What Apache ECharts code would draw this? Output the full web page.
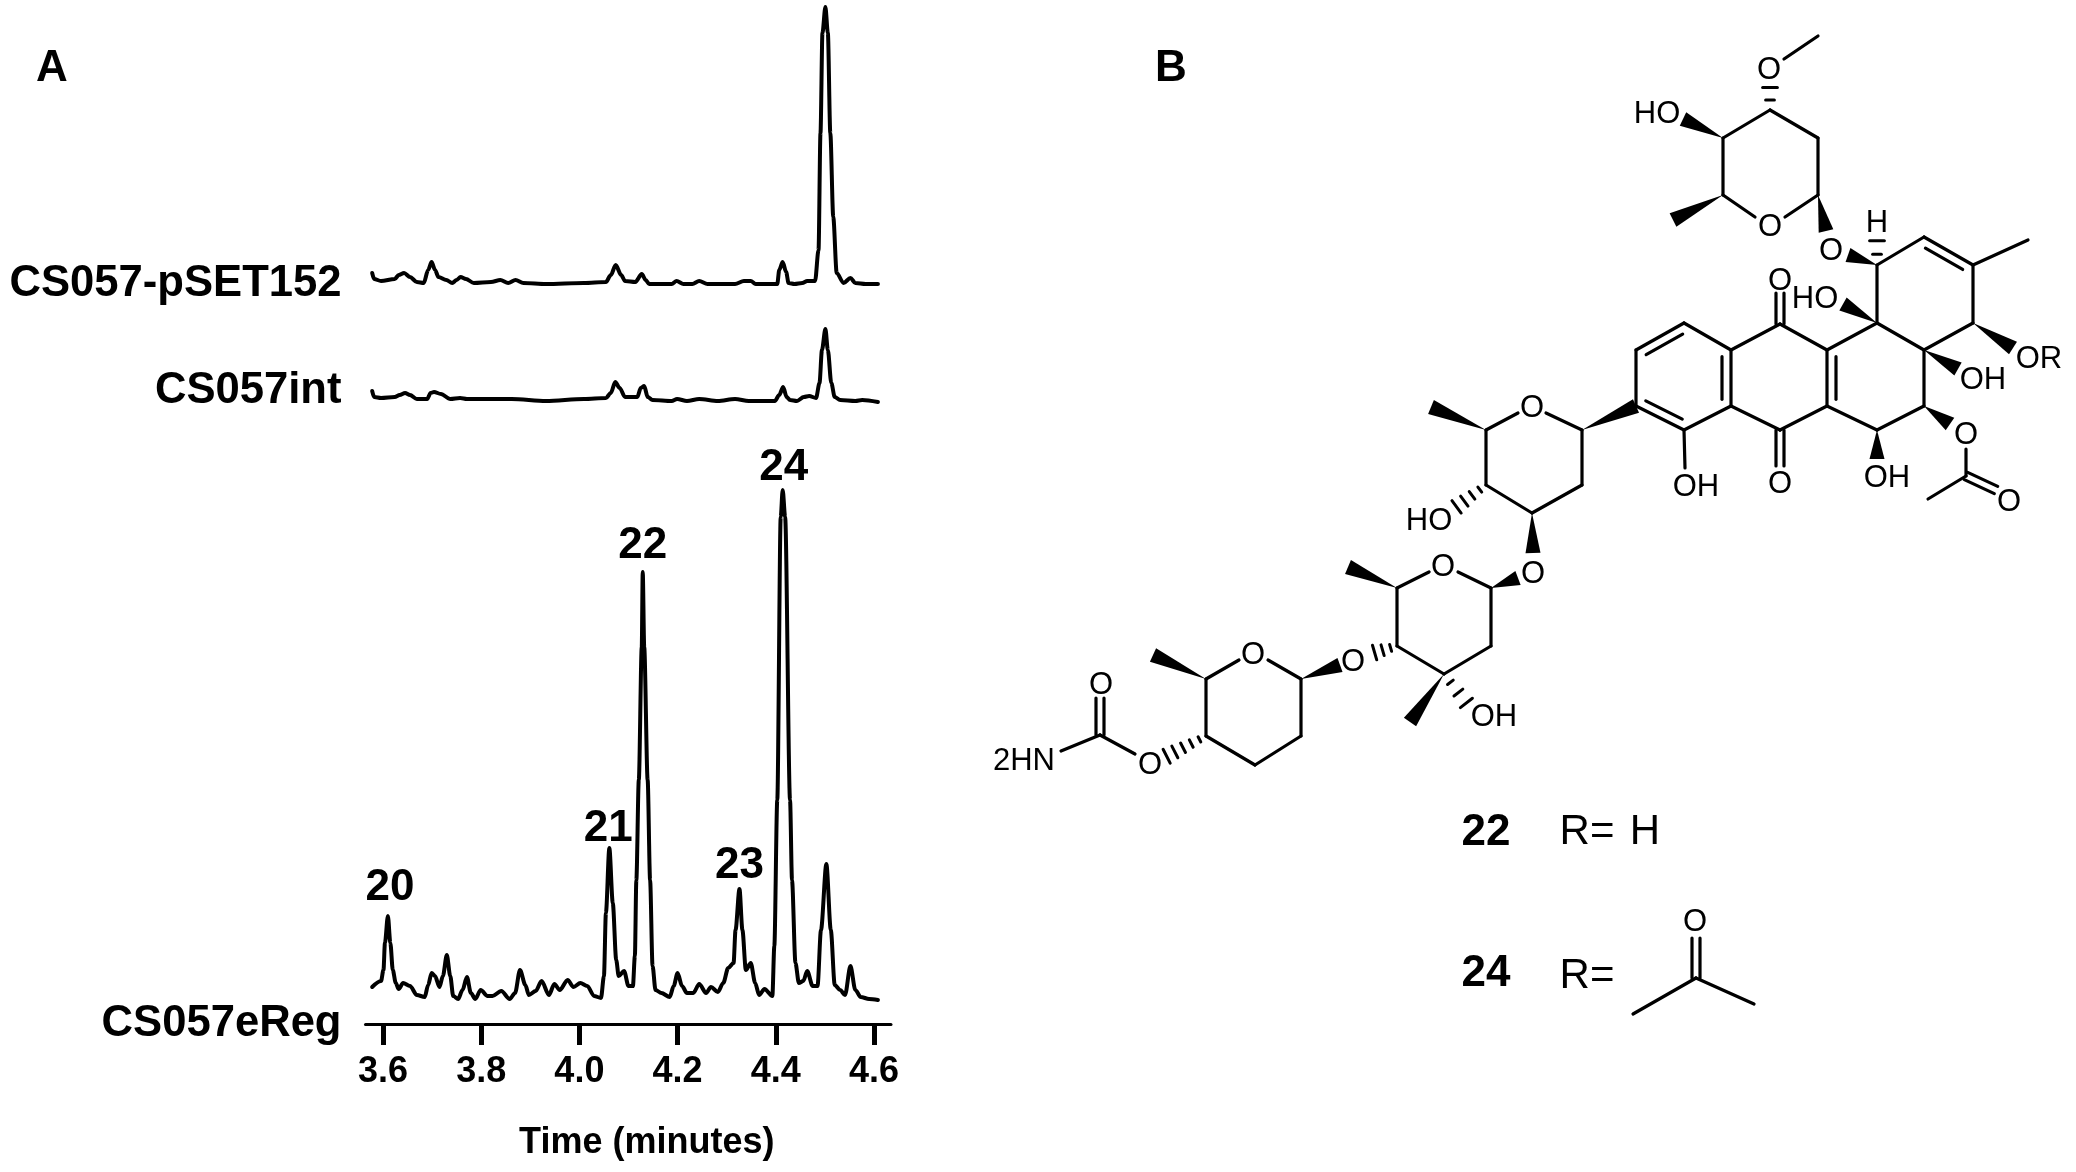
<!DOCTYPE html>
<html>
<head>
<meta charset="utf-8">
<script src="https://cdn.jsdelivr.net/npm/echarts@6/dist/echarts.min.js"></script>
<style>
  html, body { margin: 0; padding: 0; background: #fff; }
  #chart { width: 2076px; height: 1172px; }
</style>
</head>
<body>
<div id="chart"></div>
<script>
// retention time (minutes) and detector signal (arbitrary units)
const timePset = [3.578,3.582,3.596,3.624,3.632,3.643,3.655,3.669,3.683,3.692,3.699,3.706,3.713,3.729,3.741,3.750,3.758,3.769,3.785,3.820,3.839,3.855,3.870,3.886,3.932,4.009,4.054,4.064,4.074,4.085,4.093,4.114,4.127,4.135,4.142,4.188,4.198,4.212,4.230,4.244,4.261,4.317,4.335,4.349,4.359,4.403,4.407,4.414,4.421,4.426,4.438,4.454,4.464,4.480,4.487,4.491,4.495,4.501,4.506,4.511,4.517,4.524,4.538,4.552,4.562,4.583,4.608]
const signalPset = [27,21,19,21,25,27,23,18,17,30,38,30,23,20,17,20,23,21,17,18,20,17,20,17,16,17,18,25,35,25,19,18,26,20,16,16,19,16,16,19,16,16,19,19,16,16,30,38,28,17,16,17,19,19,50,167,267,293,267,167,83,27,17,22,17,16,16]

const timeInt = [3.578,3.582,3.596,3.624,3.634,3.645,3.655,3.669,3.690,3.697,3.704,3.718,3.737,3.757,3.771,3.834,3.862,3.932,4.009,4.054,4.064,4.073,4.082,4.093,4.118,4.125,4.132,4.139,4.149,4.188,4.199,4.219,4.244,4.282,4.317,4.345,4.398,4.407,4.415,4.422,4.429,4.443,4.457,4.468,4.482,4.489,4.494,4.501,4.506,4.513,4.520,4.531,4.562,4.576,4.608]
const signalInt = [29,23,22,23,25,27,25,21,21,27,28,26,21,22,21,21,21,19,21,22,27,38,32,23,23,32,34,23,20,19,21,19,21,19,21,19,19,25,33,23,20,19,23,24,22,37,70,91,70,37,23,20,19,20,18]

const timeEreg = [3.578,3.596,3.601,3.604,3.610,3.615,3.620,3.626,3.632,3.641,3.655,3.669,3.685,3.692,3.699,3.706,3.715,3.722,3.730,3.737,3.743,3.753,3.762,3.771,3.779,3.788,3.799,3.813,3.823,3.841,3.858,3.869,3.879,3.890,3.897,3.911,3.923,3.938,3.949,3.960,3.976,3.988,4.002,4.016,4.030,4.044,4.050,4.054,4.061,4.068,4.075,4.080,4.091,4.100,4.109,4.113,4.116,4.121,4.127,4.129,4.132,4.139,4.144,4.149,4.155,4.167,4.184,4.192,4.200,4.209,4.219,4.232,4.244,4.258,4.268,4.282,4.293,4.303,4.314,4.318,4.326,4.332,4.339,4.349,4.358,4.366,4.377,4.393,4.397,4.403,4.410,4.414,4.419,4.429,4.433,4.440,4.447,4.456,4.464,4.475,4.485,4.492,4.503,4.512,4.520,4.531,4.541,4.552,4.562,4.573,4.590,4.608]
const signalEreg = [37,43,54,81,108,81,54,41,35,41,38,29,27,39,51,48,37,48,69,48,28,25,34,47,31,25,34,28,28,33,25,31,54,39,29,33,43,29,40,34,44,37,41,38,28,26,48,111,176,121,64,48,53,38,38,68,144,244,377,452,377,244,144,58,34,31,27,38,51,38,31,31,40,31,37,32,41,56,61,94,135,94,54,61,41,29,35,28,78,224,507,534,507,224,144,61,41,43,53,38,38,94,160,94,39,34,29,58,34,27,25,24]

const tickValues = [3.6,3.8,4.0,4.2,4.4,4.6]
const peakNames = ['20','21','22','23','24']
const peakTimes = [3.610,4.061,4.129,4.326,4.414]
const peakSignals = [108,176,452,135,534]
const peakLabelShift = [[2,-1],[-1,8],[0,1],[0,4],[1,5]]

// text placed on the page: [text, x, y]
const traceLabels = [['CS057-pSET152',342,284],['CS057int',342,391],['CS057eReg',342,1024]]
const panelLabels = [['A',52,69],['B',1171,69]]
const compoundLabels = [['22',1486,833],['24',1486,974]]
const rLabels = [['R=',1587,832],['H',1645,832],['R=',1587,976]]

// structure drawing: atom positions on the page
const atoms = {
  a1:[1723,138],a2:[1770,110],a3:[1818,138],a4:[1818,195],a5b:[1785,217],a5c:[1755,217],a6:[1723,195],
  ao:[1770,85],ao2:[1784,59],am:[1818,36],aoh:[1683,119],ame:[1673,220],ag:[1826,231],
  b1:[1877,265],b2:[1924,237],b3:[1973,265],b4:[1973,323],b5:[1924,350],b6:[1877,323],
  bme:[2028,240],bh:[1877,238],bo:[1848,255],boh:[1843,304],bor:[2013,348],boh2:[1958,369],
  c2:[1924,406],c3:[1877,430],c4:[1827,406],c5:[1827,350],
  co:[1950,424],ac1:[1966,449],ac:[1966,476],acm:[1928,499],aco:[1996,490],coh:[1877,459],
  d1:[1780,324],d4:[1780,430],d5:[1731,406],d6:[1731,350],dot:[1780,293],dob:[1780,466],
  e2:[1684,323],e3:[1636,350],e4:[1636,406],e5:[1684,430],eoh:[1685,468],
  f1:[1582,430],f2:[1582,485],f3:[1532,513],f4:[1486,485],f5:[1486,430],
  f6l:[1518,413],f6r:[1546,413],fme:[1431,407],foh:[1455,508],fo:[1533,553],
  g1:[1491,588],g2:[1491,646],g3:[1444,674],g4:[1397,646],g5:[1397,588],
  g6l:[1429,572],g6r:[1458,572],gme:[1348,567],go:[1518,578],gme2:[1410,722],goh:[1468,705],go2:[1373,653],
  h1:[1301,679],h2:[1301,736],h3:[1255,765],h4:[1206,736],h5:[1206,679],
  h6l:[1239,660],h6r:[1268,660],hme:[1153,655],ho:[1340,665],hh:[1165,757],
  cc:[1100,735],cco:[1135,754],cdo:[1100,698],cn:[1061,751],
  rc:[1696,978],rl:[1633,1014],rr:[1754,1004],rdo:[1696,938]
}

// [from, to, kind, extra]: s single, d two equal lines, i inner second line, w wedge, h hash
const bonds = [
  ['a1','a2','s'],['a2','a3','s'],['a3','a4','s'],['a1','a6','s'],
  ['a4','a5b','s'],['a6','a5c','s'],['a2','ao','h',2],['ao2','am','s'],
  ['a1','aoh','w'],['a6','ame','w'],['a4','ag','w'],
  ['b1','b2','s'],['b2','b3','i',1],['b3','b4','s'],['b4','b5','s'],['b5','b6','s'],['b6','b1','s'],
  ['b3','bme','s'],['b1','bh','h',2],['b1','bo','w'],['b6','boh','w'],['b4','bor','w'],['b5','boh2','w'],
  ['b5','c2','s'],['c2','c3','s'],['c3','c4','s'],['c4','c5','i',1],['c5','b6','s'],
  ['c2','co','w'],['ac1','ac','s'],['ac','acm','s'],['ac','aco','d'],['c3','coh','w'],
  ['d1','c5','s'],['d1','d6','s'],['d6','d5','i',1],['d5','d4','s'],['d4','c4','s'],['d1','dot','d'],['d4','dob','d'],
  ['d6','e2','s'],['e2','e3','i',-1],['e3','e4','s'],['e4','e5','i',-1],['e5','d5','s'],['e5','eoh','s'],
  ['f1','e4','w'],['f1','f2','s'],['f2','f3','s'],['f3','f4','s'],['f4','f5','s'],['f5','f6l','s'],['f1','f6r','s'],
  ['f5','fme','w'],['f4','foh','h',4],['f3','fo','w'],
  ['g1','g2','s'],['g2','g3','s'],['g3','g4','s'],['g4','g5','s'],['g5','g6l','s'],['g1','g6r','s'],
  ['g5','gme','w'],['g1','go','w'],['g3','gme2','w'],['g3','goh','h',3],['g4','go2','h',3],
  ['h1','h2','s'],['h2','h3','s'],['h3','h4','s'],['h4','h5','s'],['h5','h6l','s'],['h1','h6r','s'],
  ['h5','hme','w'],['h1','ho','w'],['h4','hh','h',5],
  ['cco','cc','s'],['cc','cdo','d'],['cc','cn','s'],
  ['rc','rl','s'],['rc','rr','s'],['rc','rdo','d']
]

const atomLabels = [
  ['O',1769,70],['HO',1657,114],['O',1770,227],['O',1831,251],['H',1877,223],
  ['HO',1815,299],['O',1780,281],['OR',2039,359],['OH',1983,380],['O',1966,435],['O',2009,502],
  ['OH',1887,478],['O',1780,484],['OH',1696,487],
  ['O',1532,408],['HO',1429,521],['O',1533,574],['OH',1494,717],['O',1443,567],['O',1353,662],
  ['O',1253,655],['O',1150,765],['O',1101,685],['2HN',1024,761],['O',1695,922]
]

const fontFamily = '"Liberation Sans", Arial, sans-serif'
const xMin = 3.5644
const xMax = 4.6346

function bondShapes(bond, api) {
  const a = api.coord(atoms[bond[0]])
  const b = api.coord(atoms[bond[1]])
  const kind = bond[2]
  const dx = b[0] - a[0]
  const dy = b[1] - a[1]
  const len = Math.sqrt(dx * dx + dy * dy)
  const nx = -dy / len
  const ny = dx / len
  const stroke = { stroke: '#000', lineWidth: 3.2, lineCap: 'round' }
  const line = (x1, y1, x2, y2, lw) => ({
    type: 'line',
    shape: { x1, y1, x2, y2 },
    style: lw ? { ...stroke, lineWidth: lw } : stroke
  })
  if (kind === 's') return [line(a[0], a[1], b[0], b[1])]
  if (kind === 'd') {
    const o = 4
    return [
      line(a[0] + nx * o, a[1] + ny * o, b[0] + nx * o, b[1] + ny * o),
      line(a[0] - nx * o, a[1] - ny * o, b[0] - nx * o, b[1] - ny * o)
    ]
  }
  if (kind === 'i') {
    const o = 9 * bond[3]
    const t = 0.12
    return [
      line(a[0], a[1], b[0], b[1]),
      line(a[0] + dx * t + nx * o, a[1] + dy * t + ny * o, b[0] - dx * t + nx * o, b[1] - dy * t + ny * o)
    ]
  }
  if (kind === 'w') {
    const w = 7.5
    return [{
      type: 'polygon',
      shape: { points: [a, [b[0] + nx * w, b[1] + ny * w], [b[0] - nx * w, b[1] - ny * w]] },
      style: { fill: '#000' }
    }]
  }
  // hash: dashes get wider going away from the atom
  const n = bond[3]
  const out = []
  for (let i = 1; i <= n; i++) {
    const t = (i - 0.2) / n
    const half = 2 + 6 * t
    const px = a[0] + dx * t
    const py = a[1] + dy * t
    out.push(line(px + nx * half, py + ny * half, px - nx * half, py - ny * half, 3))
  }
  return out
}

function textSeries(name, list, position, size, weight) {
  return {
    name,
    type: 'scatter',
    xAxisIndex: 3,
    yAxisIndex: 3,
    symbolSize: 1,
    silent: true,
    itemStyle: { color: 'transparent', opacity: 1 },
    data: list.map(d => ({ name: d[0], value: [d[1], d[2]] })),
    label: {
      show: true,
      position,
      distance: 0,
      formatter: '{b}',
      color: '#000',
      fontFamily,
      fontSize: size,
      fontWeight: weight
    }
  }
}

function traceSeries(name, index, times, signals) {
  return {
    name,
    type: 'line',
    xAxisIndex: index,
    yAxisIndex: index,
    showSymbol: false,
    smooth: 0.3,
    smoothMonotone: 'x',
    clip: false,
    lineStyle: { color: '#000', width: 4, join: 'round', cap: 'round' },
    data: times.map((t, i) => [t, signals[i]])
  }
}

const hiddenX = i => ({ type: 'value', gridIndex: i, min: xMin, max: xMax, show: false })
const hiddenY = (i, max) => ({ type: 'value', gridIndex: i, min: 0, max, show: false })

const option = {
  backgroundColor: '#fff',
  animation: false,
  grid: [
    { left: 365.5, width: 525.5, top: 0, height: 300 },
    { left: 365.5, width: 525.5, top: 320, height: 100 },
    { left: 365.5, width: 525.5, top: 450, height: 574 },
    { left: 0, width: 2076, top: 0, height: 1172 }
  ],
  xAxis: [
    hiddenX(0),
    hiddenX(1),
    {
      type: 'value',
      gridIndex: 2,
      min: xMin,
      max: xMax,
      name: 'Time (minutes)',
      nameLocation: 'middle',
      nameGap: 101,
      nameTextStyle: { color: '#000', fontFamily, fontSize: 36, fontWeight: 'bold', padding: [0, 0, 0, 37] },
      splitLine: { show: false },
      axisLine: { onZero: false, lineStyle: { color: '#000', width: 3 } },
      axisTick: { customValues: tickValues, length: 21, lineStyle: { color: '#000', width: 5 } },
      axisLabel: {
        customValues: tickValues,
        margin: 30,
        color: '#000',
        fontFamily,
        fontSize: 36,
        fontWeight: 'bold',
        formatter: v => v.toFixed(1)
      }
    },
    { type: 'value', gridIndex: 3, min: 0, max: 2076, show: false }
  ],
  yAxis: [
    hiddenY(0, 300),
    hiddenY(1, 100),
    hiddenY(2, 574),
    { type: 'value', gridIndex: 3, min: 0, max: 1172, inverse: true, show: false }
  ],
  series: [
    traceSeries('CS057-pSET152', 0, timePset, signalPset),
    traceSeries('CS057int', 1, timeInt, signalInt),
    traceSeries('CS057eReg', 2, timeEreg, signalEreg),
    {
      name: 'peaks',
      type: 'scatter',
      xAxisIndex: 2,
      yAxisIndex: 2,
      symbolSize: 1,
      silent: true,
      itemStyle: { color: 'transparent', opacity: 1 },
      data: peakNames.map((n, i) => ({
        name: n,
        value: [peakTimes[i], peakSignals[i]],
        label: { offset: peakLabelShift[i] }
      })),
      label: {
        show: true,
        position: 'top',
        distance: 6,
        formatter: '{b}',
        color: '#000',
        fontFamily,
        fontSize: 44,
        lineHeight: 42,
        fontWeight: 'bold'
      }
    },
    {
      name: 'structure',
      type: 'custom',
      xAxisIndex: 3,
      yAxisIndex: 3,
      silent: true,
      clip: false,
      data: bonds.map((b, i) => [i, i]),
      renderItem: (params, api) => ({
        type: 'group',
        children: bondShapes(bonds[params.dataIndex], api)
      })
    },
    textSeries('trace labels', traceLabels, 'left', 43.6, 'bold'),
    textSeries('panels', panelLabels, 'inside', 44, 'bold'),
    textSeries('compounds', compoundLabels, 'inside', 44, 'bold'),
    textSeries('r groups', rLabels, 'inside', 42, 'normal'),
    textSeries('atoms', atomLabels, 'inside', 31, 'normal')
  ]
}

const chart = echarts.init(document.getElementById('chart'), null, { renderer: 'canvas' })
chart.setOption(option)
</script>
</body>
</html>
